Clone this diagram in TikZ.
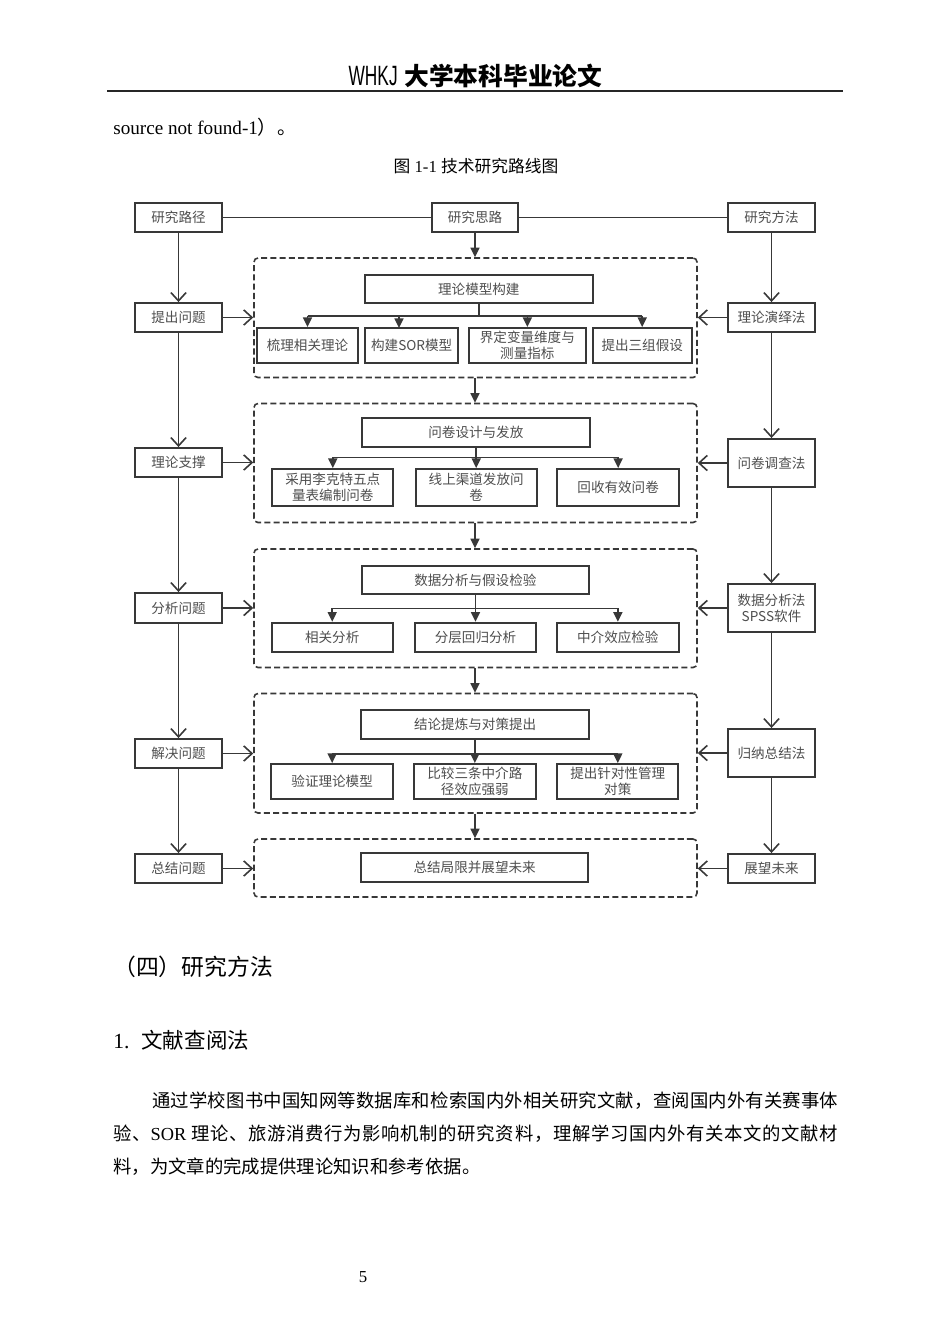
\documentclass[tikz,border=0pt]{standalone}
\usepackage{fontspec}
\setmainfont{Liberation Serif}
\newfontfamily\cjk{Noto Sans CJK SC}
\newfontfamily\narrowsans{Liberation Sans}[FakeStretch=0.62]
\usetikzlibrary{arrows.meta}
\definecolor{linec}{HTML}{383838}
\definecolor{txtc}{HTML}{4E4E4E}
\newdimen\U \U=0.6266pt
\newcommand\diagfont{\cjk\fontsize{8.5pt}{10.2pt}\selectfont}
\makeatletter
\def\spreadtext#1{\spread@#1\spread@end}
\def\spread@#1{\ifx#1\spread@end\unskip\else#1\hskip 0pt plus 1fil\relax\expandafter\spread@\fi}
\makeatother
\tikzset{
  box/.style={draw=linec, line width=1.2pt, inner sep=0pt, align=center, font=\diagfont, text=txtc},
  frame/.style={draw=linec, line width=1pt, dash pattern=on 3.8pt off 2pt, rounded corners=2.5pt, inner sep=0pt},
  conn/.style={draw=linec, line width=1pt},
  openarr/.style={conn, -{Straight Barb[length=5.2pt,width=9.5pt]}},
  fillarr/.style={conn, -{Triangle[length=6pt,width=5.6pt]}},
}
\newcommand\mybox[6]{\node[box, minimum width={(#4-#2)*\U}, minimum height={(#5-#3)*\U}] (#1) at ({(#2+#4)/2},{(#3+#5)/2}) {#6};}
\newcommand\myframe[5]{\node[frame, minimum width={(#4-#2)*\U}, minimum height={(#5-#3)*\U}] (#1) at ({(#2+#4)/2},{(#3+#5)/2}) {};}
\begin{document}
\begin{tikzpicture}[x=0.6266pt,y=-0.6266pt]
\useasboundingbox (0,0) rectangle (950,1344);
\fill[white] (0,0) rectangle (950,1344);

% header
\node[anchor=base east, inner sep=0pt] (hdrA) at (398,85) {\narrowsans\fontsize{17.5pt}{18pt}\selectfont WHKJ};
\node[anchor=base west, inner sep=0pt] (hdrB) at (404,85) {\cjk\bfseries\fontsize{15.5pt}{16pt}\selectfont 大学本科毕业论文};
\draw[line width=1.2pt, black!85] (107,91) -- (843,91);

\node[anchor=base west, inner sep=0pt] (src) at (113,134.5) {\fontsize{12pt}{14pt}\selectfont source not found-1{\cjk ）。}};
\node[anchor=base, inner sep=0pt] (cap) at (476,172) {\fontsize{10.5pt}{12pt}\selectfont{\cjk 图} 1-1 {\cjk 技术研究路线图}};

% top row
\mybox{L0}{135}{203}{222}{232}{研究路径}
\mybox{C0}{432}{203}{518}{232}{研究思路}
\mybox{R0}{728}{203}{815}{232}{研究方法}

% left column
\mybox{L1}{135}{303}{222}{332}{提出问题}
\mybox{L2}{135}{448}{222}{477}{理论支撑}
\mybox{L3}{135}{593}{222}{623}{分析问题}
\mybox{L4}{135}{739}{222}{768}{解决问题}
\mybox{L5}{135}{854}{222}{883}{总结问题}

% right column
\mybox{R1}{728}{303}{815}{332}{理论演绎法}
\mybox{R2}{728}{439}{815}{487}{问卷调查法}
\mybox{R3}{728}{584}{815}{632}{数据分析法\\SPSS软件}
\mybox{R4}{728}{729}{815}{777}{归纳总结法}
\mybox{R5}{728}{854}{815}{883}{展望未来}

% dashed frames
\myframe{D1}{254}{258}{697}{377.5}
\myframe{D2}{254}{403.5}{697}{522.5}
\myframe{D3}{254}{549}{697}{667.5}
\myframe{D4}{254}{693.5}{697}{813}
\myframe{D5}{254}{839}{697}{897}

% row 1
\mybox{P1}{365}{275}{592.7}{303.3}{理论模型构建}
\mybox{A1}{256.7}{328}{358.3}{363}{梳理相关理论}
\mybox{A2}{365}{328}{458.3}{363}{构建SOR模型}
\mybox{A3}{469}{328}{585.7}{363}{界定变量维度与\\测量指标}
\mybox{A4}{592.7}{328}{691.7}{363}{提出三组假设}
% row 2
\mybox{P2}{361.7}{417.7}{590}{446.7}{问卷设计与发放}
\mybox{B1}{272.3}{469}{393.3}{506}{采用李克特五点\\量表编制问卷}
\mybox{B2}{415.7}{469}{536.7}{506}{线上渠道发放问\\卷}
\mybox{B3}{557.3}{469}{679}{506}{回收有效问卷}
% row 3
\mybox{P3}{361.7}{565.7}{589}{594}{数据分析与假设检验}
\mybox{C1}{271.7}{622.7}{392.7}{651.7}{相关分析}
\mybox{C2}{415}{622.7}{536}{651.7}{分层回归分析}
\mybox{C3}{556.7}{622.7}{679}{651.7}{中介效应检验}
% row 4
\mybox{P4}{361}{710}{589.3}{739}{结论提炼与对策提出}
\mybox{E1}{271}{764}{393.3}{799.3}{验证理论模型}
\mybox{E2}{414}{764}{535.7}{799.3}{比较三条中介路\\径效应强弱}
\mybox{E3}{557.3}{764}{678.3}{799.3}{提出针对性管理\\对策}
% row 5
\mybox{P5}{361}{853.3}{588.3}{882.3}{总结局限并展望未来}

% top line
\draw[conn] (L0.east) -- (C0.west);
\draw[conn] (C0.east) -- (R0.west);

% left column arrows
\draw[openarr] (L0.south) -- (L1.north);
\draw[openarr] (L1.south) -- (L2.north);
\draw[openarr] (L2.south) -- (L3.north);
\draw[openarr] (L3.south) -- (L4.north);
\draw[openarr] (L4.south) -- (L5.north);
% right column arrows
\draw[openarr] (R0.south) -- (R1.north);
\draw[openarr] (R1.south) -- (R2.north);
\draw[openarr] (R2.south) -- (R3.north);
\draw[openarr] (R3.south) -- (R4.north);
\draw[openarr] (R4.south) -- (R5.north);
% horizontal arrows into frames
\draw[openarr] (L1.east) -- (L1.east -| D1.west);
\draw[openarr] (L2.east) -- (L2.east -| D2.west);
\draw[openarr] (L3.east) -- (L3.east -| D3.west);
\draw[openarr] (L4.east) -- (L4.east -| D4.west);
\draw[openarr] (L5.east) -- (L5.east -| D5.west);
\draw[openarr] (R1.west) -- (R1.west -| D1.east);
\draw[openarr] (R2.west) -- (R2.west -| D2.east);
\draw[openarr] (R3.west) -- (R3.west -| D3.east);
\draw[openarr] (R4.west) -- (R4.west -| D4.east);
\draw[openarr] (R5.west) -- (R5.west -| D5.east);
% centre arrows
\draw[fillarr] (C0.south) -- (C0.south |- D1.north);
\draw[fillarr] (C0.south |- D1.south) -- (C0.south |- D2.north);
\draw[fillarr] (C0.south |- D2.south) -- (C0.south |- D3.north);
\draw[fillarr] (C0.south |- D3.south) -- (C0.south |- D4.north);
\draw[fillarr] (C0.south |- D4.south) -- (C0.south |- D5.north);

% branches row 1
\coordinate (b1) at (0,315.7);
\coordinate (a2t) at (399,328);
\draw[conn] (P1.south) -- (P1.south |- b1);
\draw[conn] (A1.north |- b1) -- (A4.north |- b1);
\draw[fillarr] (A1.north |- b1) -- (A1.north);
\draw[fillarr] (a2t |- b1) -- (a2t);
\draw[fillarr] (A3.north |- b1) -- (A3.north);
\draw[fillarr] (A4.north |- b1) -- (A4.north);
% branches row 2
\coordinate (b2) at (0,457.3);
\draw[conn] (P2.south) -- (P2.south |- b2);
\draw[conn] (B1.north |- b2) -- (B3.north |- b2);
\draw[fillarr] (B1.north |- b2) -- (B1.north);
\draw[fillarr] (B2.north |- b2) -- (B2.north);
\draw[fillarr] (B3.north |- b2) -- (B3.north);
% branches row 3
\coordinate (b3) at (0,608.3);
\draw[conn] (P3.south) -- (P3.south |- b3);
\draw[conn] (C1.north |- b3) -- (C3.north |- b3);
\draw[fillarr] (C1.north |- b3) -- (C1.north);
\draw[fillarr] (C2.north |- b3) -- (C2.north);
\draw[fillarr] (C3.north |- b3) -- (C3.north);
% branches row 4
\coordinate (b4) at (0,754);
\draw[conn] (P4.south) -- (P4.south |- b4);
\draw[conn] (E1.north |- b4) -- (E3.north |- b4);
\draw[fillarr] (E1.north |- b4) -- (E1.north);
\draw[fillarr] (E2.north |- b4) -- (E2.north);
\draw[fillarr] (E3.north |- b4) -- (E3.north);

% text below
\node[anchor=base west, inner sep=0pt] (h4) at (113,975) {\cjk\fontsize{14.3pt}{16pt}\selectfont （四）研究方法};
\node[anchor=base west, inner sep=0pt] (h41) at (113,1048) {\fontsize{13.5pt}{15pt}\selectfont 1.\hspace{7.5pt}{\cjk 文献查阅法}};
\node[anchor=base west, inner sep=0pt] (p1) at (152,1107) {\fontsize{11.5pt}{14pt}\selectfont\hbox to 686\U{\cjk\spreadtext{通过学校图书中国知网等数据库和检索国内外相关研究文献，查阅国内外有关赛事体}}};
\node[anchor=base west, inner sep=0pt] (p2) at (113,1140) {\fontsize{11.5pt}{14pt}\selectfont\hbox to 725\U{{\cjk\spreadtext{验、}}SOR {\cjk\spreadtext{理论、旅游消费行为影响机制的研究资料，理解学习国内外有关本文的文献材}}}};
\node[anchor=base west, inner sep=0pt] (p3) at (113,1173) {\cjk\fontsize{11.5pt}{14pt}\selectfont 料，为文章的完成提供理论知识和参考依据。};
\node[anchor=base, inner sep=0pt] (pg) at (363,1282) {\fontsize{10.5pt}{12pt}\selectfont 5};
\end{tikzpicture}
\end{document}
